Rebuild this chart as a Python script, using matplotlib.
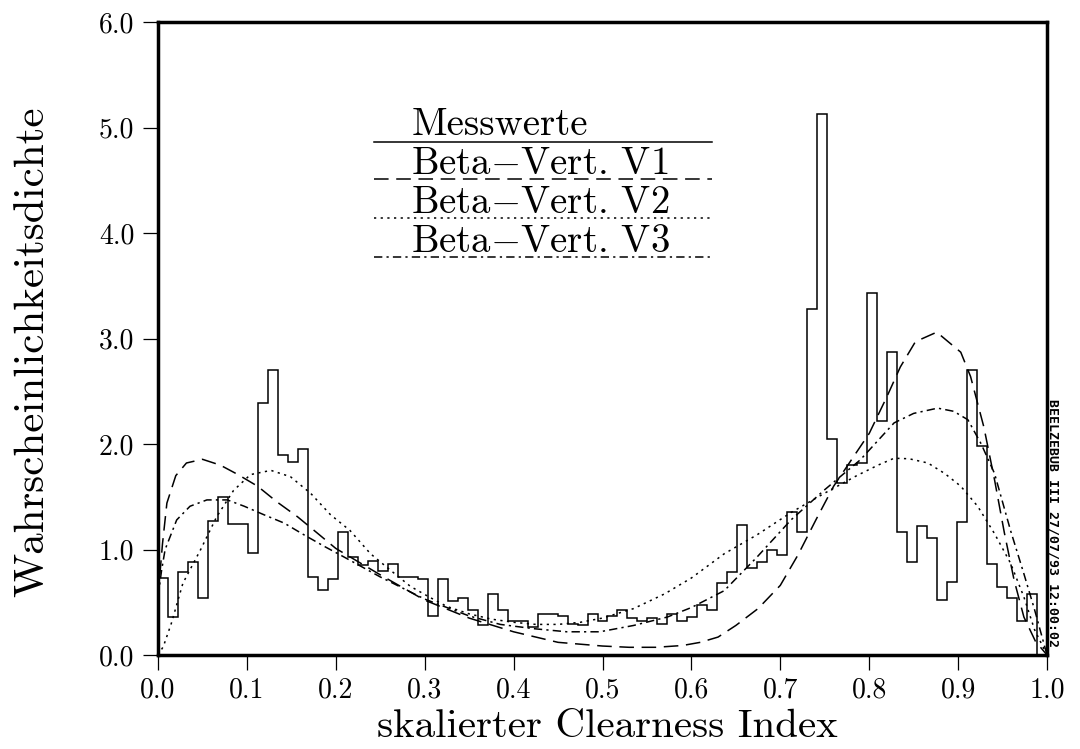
import numpy as np
import matplotlib
matplotlib.use("Agg")
import matplotlib.pyplot as plt

plt.rcParams['font.family'] = ['cmr10', 'DejaVu Serif']
plt.rcParams['mathtext.fontset'] = 'cm'
plt.rcParams['axes.formatter.use_mathtext'] = True
plt.rcParams['lines.scale_dashes'] = False

# Histogram of measured values: 89 equal bins on [0, 1]
bin_edges = np.linspace(0.0, 1.0, 90)
messwerte = [
    0.73, 0.36, 0.79, 0.88, 0.54, 1.27, 1.50, 1.24, 1.24, 0.97,
    2.39, 2.70, 1.90, 1.83, 1.95, 0.74, 0.62, 0.72, 1.17, 0.93,
    0.85, 0.89, 0.80, 0.86, 0.74, 0.74, 0.72, 0.37, 0.72, 0.51,
    0.54, 0.43, 0.28, 0.58, 0.43, 0.32, 0.32, 0.27, 0.39, 0.39,
    0.37, 0.29, 0.28, 0.39, 0.32, 0.37, 0.43, 0.35, 0.32, 0.35,
    0.29, 0.39, 0.32, 0.36, 0.47, 0.43, 0.68, 0.79, 1.23, 0.82,
    0.88, 1.00, 0.95, 1.36, 1.17, 3.28, 5.13, 2.05, 1.63, 1.80,
    1.82, 3.43, 2.22, 2.87, 1.17, 0.88, 1.22, 1.11, 0.52, 0.69,
    1.26, 2.70, 1.98, 0.86, 0.64, 0.54, 0.32, 0.58, 0.00,
]

# Fitted beta densities, sampled along x
v1_x = [0.0, 0.005, 0.01, 0.02, 0.032, 0.05, 0.07, 0.09, 0.112, 0.134,
        0.157, 0.18, 0.2, 0.25, 0.3, 0.35, 0.4, 0.45, 0.5, 0.53,
        0.56, 0.59, 0.61, 0.63, 0.65, 0.675, 0.7, 0.72, 0.74, 0.76,
        0.78, 0.8, 0.82, 0.835, 0.852, 0.876, 0.903, 0.914, 0.929, 0.941,
        0.952, 0.963, 0.974, 0.987, 1.0]
v1_y = [0.55, 1.05, 1.44, 1.70, 1.82, 1.855, 1.80, 1.71, 1.60, 1.45,
        1.31, 1.15, 1.01, 0.76, 0.52, 0.35, 0.22, 0.12, 0.085, 0.073,
        0.073, 0.09, 0.12, 0.17, 0.28, 0.44, 0.66, 0.95, 1.28, 1.60,
        1.85, 2.10, 2.45, 2.73, 2.97, 3.06, 2.87, 2.64, 2.16, 1.66,
        1.16, 0.71, 0.36, 0.13, 0.0]

v2_x = [0.0, 0.006, 0.015, 0.028, 0.048, 0.066, 0.085, 0.104, 0.127, 0.149,
        0.172, 0.194, 0.216, 0.239, 0.262, 0.284, 0.305, 0.325, 0.35, 0.375,
        0.4, 0.425, 0.45, 0.475, 0.5, 0.535, 0.57, 0.6, 0.637, 0.674,
        0.712, 0.749, 0.786, 0.81, 0.828, 0.845, 0.866, 0.885, 0.903, 0.922,
        0.941, 0.959, 0.974, 0.986, 1.0]
v2_y = [0.0, 0.08, 0.30, 0.68, 1.00, 1.31, 1.56, 1.71, 1.75, 1.69,
        1.53, 1.33, 1.18, 0.96, 0.80, 0.65, 0.55, 0.46, 0.39, 0.34,
        0.31, 0.29, 0.29, 0.31, 0.35, 0.44, 0.58, 0.73, 0.96, 1.14,
        1.35, 1.53, 1.70, 1.80, 1.865, 1.86, 1.82, 1.72, 1.60, 1.41,
        1.15, 0.87, 0.55, 0.24, 0.0]

v3_x = [0.0, 0.004, 0.008, 0.021, 0.036, 0.055, 0.078, 0.097, 0.119, 0.142,
        0.164, 0.187, 0.209, 0.25, 0.3, 0.35, 0.385, 0.422, 0.46, 0.497,
        0.535, 0.573, 0.6, 0.637, 0.674, 0.712, 0.749, 0.79, 0.828, 0.85,
        0.877, 0.895, 0.911, 0.926, 0.941, 0.959, 0.974, 0.986, 1.0]
v3_y = [0.55, 0.80, 1.00, 1.28, 1.41, 1.47, 1.47, 1.41, 1.33, 1.25,
        1.14, 1.03, 0.93, 0.74, 0.53, 0.37, 0.29, 0.25, 0.22, 0.22,
        0.28, 0.36, 0.45, 0.61, 0.93, 1.28, 1.56, 1.85, 2.20, 2.29,
        2.34, 2.31, 2.23, 2.00, 1.72, 1.18, 0.77, 0.43, 0.0]

x_ticks = [0.0, 0.1, 0.2, 0.3, 0.4, 0.5, 0.6, 0.7, 0.8, 0.9, 1.0]
y_ticks = [0.0, 1.0, 2.0, 3.0, 4.0, 5.0, 6.0]

labels = ["Messwerte", r"Beta$-$Vert. V1", r"Beta$-$Vert. V2", r"Beta$-$Vert. V3"]

# Line styles: solid, long dash, dotted, dash-dot
styles = [
    dict(linestyle='-'),
    dict(linestyle=(0, (10.5, 5.5))),
    dict(linestyle=(0, (1.6, 3.2))),
    dict(linestyle=(0, (6.0, 3.0, 1.6, 3.0))),
]
lw = 1.1

fig = plt.figure(figsize=(10.8, 7.49), dpi=100)
ax = fig.add_axes([158 / 1080, 1 - 655 / 749, (1047 - 158) / 1080, (655 - 22) / 749])

ax.stairs(messwerte, bin_edges, baseline=0, fill=False, color='black', linewidth=lw, **styles[0])
ax.plot(v1_x, v1_y, color='black', linewidth=lw, **styles[1])
ax.plot(v2_x, v2_y, color='black', linewidth=lw, **styles[2])
ax.plot(v3_x, v3_y, color='black', linewidth=lw, **styles[3])

ax.set_xlim(0.0, 1.0)
ax.set_ylim(0.0, 6.0)
ax.set_xticks(x_ticks)
ax.set_yticks(y_ticks)
ax.set_xticklabels([f"{t:.1f}" for t in x_ticks])
ax.set_yticklabels([f"{t:.1f}" for t in y_ticks])
ax.tick_params(direction='out', length=11, width=0.9, labelsize=20, pad=6,
               top=False, right=False, colors='black')
ax.tick_params(axis='x', pad=5)
for sp in ax.spines.values():
    sp.set_linewidth(2.5)

# Hand-drawn key: text with a sample line beneath each entry
key_x0, key_x1, key_text_x = 0.243, 0.623, 0.285
key_text_y = [4.93, 4.56, 4.19, 3.82]
key_line_y = [4.866, 4.512, 4.139, 3.775]
for lab, ty, ly, st in zip(labels, key_text_y, key_line_y, styles):
    ax.text(key_text_x, ty, lab, fontsize=28, ha='left', va='baseline')
    ax.plot([key_x0, key_x1], [ly, ly], color='black', linewidth=lw, **st)

fig.text(607 / 1080, 1 - 737 / 749, "skalierter Clearness Index", fontsize=29.5,
         ha='center', va='baseline')
fig.text(43 / 1080, 1 - 352 / 749, "Wahrscheinlichkeitsdichte", fontsize=31,
         ha='center', va='baseline', rotation=90, rotation_mode='anchor')
fig.text(1053 / 1080, 1 - 399 / 749, "BEELZEBUB III 27/07/93 12:00:02",
         family='DejaVu Sans Mono', fontsize=9.5, fontweight='bold', rotation=270,
         ha='center', va='top')

fig.savefig("out.png", dpi=100)
